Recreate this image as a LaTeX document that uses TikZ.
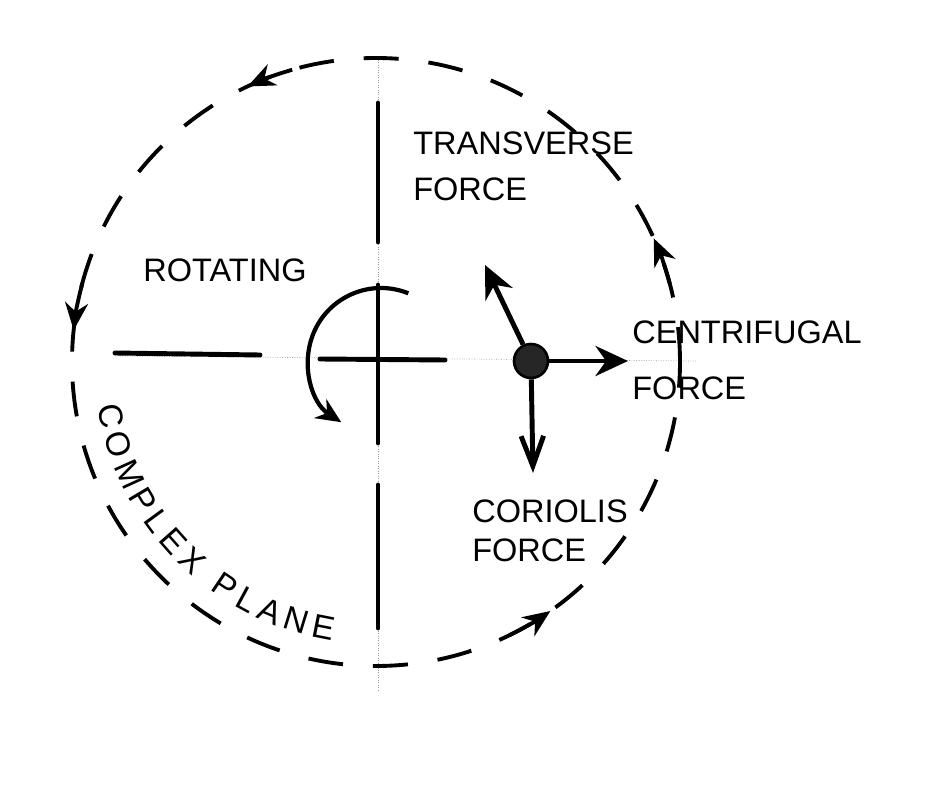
\documentclass[tikz,border=0pt]{standalone}
\usepackage{fontspec}
\setmainfont{Liberation Sans}
\usetikzlibrary{arrows.meta,decorations.text}
\tikzset{
  axis/.style={line width=2.8pt, line cap=round},
  guide/.style={densely dotted, line width=0.4pt, black!40},
  orbit/.style={line width=2.2pt, dash pattern=on 0.7cm off 0.6cm},
  orbitarrow/.style={line width=2.2pt, -{Stealth[length=5.5mm,width=4.6mm]}},
  forcearrow/.style={line width=2.8pt, -{Stealth[length=6.5mm,width=6mm]}},
  barbarrow/.style={line width=2.8pt, -{Straight Barb[length=6mm,width=4.5mm]}},
  spin/.style={line width=2.4pt, -{Stealth[length=5mm,width=4.5mm]}},
  particle/.style={circle, draw, line width=1.5pt, fill=black!85, minimum size=0.68cm, inner sep=0pt},
  lbl/.style={font=\fontsize{18.5}{26}\selectfont, align=left, inner sep=0pt}
}
\begin{document}
\begin{tikzpicture}[x=0.02cm, y=0.02cm]
  \useasboundingbox (-376,362) rectangle (551,-429);
  % faint construction lines
  \draw[guide] (2,302) -- (2,-328);
  \draw[guide] (-261,6) -- (320,1);
  % complex plane and its sense of rotation
  \draw[orbit] (0,0) circle[radius=304];
  \foreach \a in {115,174,305,24}
    \draw[orbitarrow] (\a-9:304) arc[start angle=\a-9, end angle=\a, radius=304];
  % axes
  \draw[axis] (2,259) -- (2,120);
  \draw[axis] (2,77) -- (2,-81);
  \draw[axis] (2,-123) -- (2,-266);
  \draw[axis] (-261,9) -- (-116,7);
  \draw[axis] (-56,3) -- (69,2);
  \draw[spin] (5,1) ++(68:73) arc[start angle=68, end angle=237, radius=73];
  % particle and the forces on it
  \node[particle] (mass) at (155,1) {};
  \coordinate (cf) at (252,1);
  \coordinate (tr) at (109,97);
  \coordinate (co) at (157,-111);
  \draw[forcearrow] (mass) -- (cf);
  \draw[forcearrow] (mass) -- (tr);
  \draw[barbarrow] (mass) -- (co);
  % labels
  \node[lbl, anchor=west] (trans) at (37,196) {TRANSVERSE\\FORCE};
  \node[lbl] (rot) at (-151,92) {ROTATING};
  \node[lbl, anchor=west] (centri) at (256,2) {CENTRIFUGAL\\[6pt]FORCE};
  \node[lbl, anchor=west] (corio) at (96,-169) {CORIOLIS\\[-4pt]FORCE};
  \path[decorate, decoration={text along path, text align={fit to path},
    text={|\fontsize{19}{19}\selectfont|COMPLEX PLANE}}]
    (189:282) arc[start angle=189, end angle=261, radius=282];
\end{tikzpicture}
\end{document}
